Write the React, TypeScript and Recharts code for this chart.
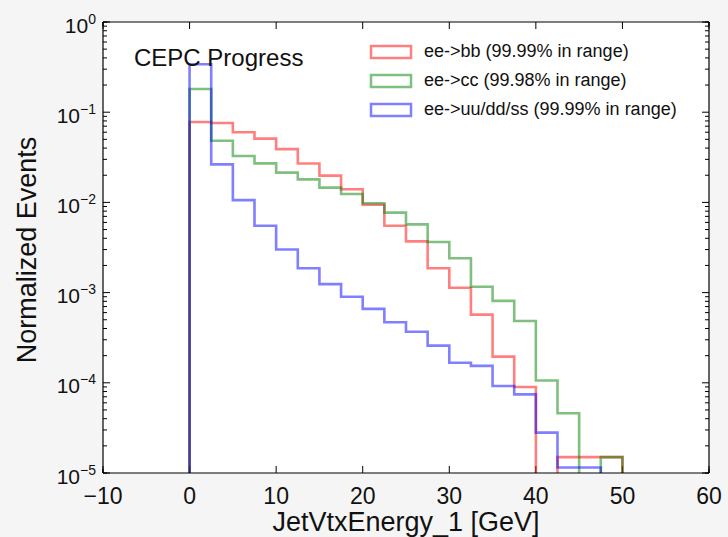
import { LineChart, Line, XAxis, YAxis, Legend, Label, CartesianGrid } from "recharts";

const FONT = '"Liberation Sans", Arial, Helvetica, sans-serif';

// bin edges of the histogram [GeV]
const BIN_EDGES = [
  0, 2.5, 5, 7.5, 10, 12.5, 15, 17.5, 20, 22.5, 25, 27.5, 30, 32.5, 35, 37.5,
  40, 42.5, 45, 47.5, 50,
];

// normalized bin contents
const BB = [
  0.078, 0.076, 0.06, 0.051, 0.039, 0.027, 0.0198, 0.014, 0.0094, 0.0055,
  0.0037, 0.00186, 0.00113, 0.00057, 0.000195, 0.00009, 0, 0.000015, 0.000015,
  0.000015,
];
const CC = [
  0.181, 0.0483, 0.0327, 0.0271, 0.0214, 0.018, 0.0146, 0.0124, 0.0098, 0.0077,
  0.0057, 0.00364, 0.0024, 0.00116, 0.00081, 0.000484, 0.000106, 0.0000459, 0,
  0.000015,
];
const QQ = [
  0.34, 0.0264, 0.0106, 0.0055, 0.003, 0.00186, 0.00124, 0.0009, 0.00066,
  0.00047, 0.000368, 0.000258, 0.000167, 0.000154, 0.0000922, 0.0000745,
  0.000028, 0.0000115, 0.0000115, 0,
];

const SERIES_NAMES = [
  "ee->bb (99.99% in range)",
  "ee->cc (99.98% in range)",
  "ee->uu/dd/ss (99.99% in range)",
];
const COLORS = ["#ff0000", "#008000", "#0000ff"];

const X_TICKS = [-10, 0, 10, 20, 30, 40, 50, 60];
const Y_TICKS = [1e-5, 1e-4, 1e-3, 1e-2, 1e-1, 1];

// positions of the minor tick marks
const X_MINOR: number[] = [];
for (let v = -10; v <= 60; v += 2) X_MINOR.push(v);
const Y_MINOR: number[] = [];
for (let e = -5; e < 0; e++) for (let m = 2; m <= 9; m++) Y_MINOR.push(m * Math.pow(10, e));

// layout
const W = 728;
const H = 537;
const MARGIN = { top: 22, right: 19, left: 0, bottom: 0 };
const Y_AXIS_W = 103;
const X_AXIS_H = 64;
const PLOT_W = W - MARGIN.left - MARGIN.right - Y_AXIS_W;
const PLOT_H = H - MARGIN.top - MARGIN.bottom - X_AXIS_H;
const MAJOR_LEN = 7;
const MINOR_LEN = 4;

// grid lines dashed so that only a short inward mark shows at each end
const endDash = (len: number, span: number) => `${len} ${span - 2 * len} ${len}`;

// empty bins sit far below the log axis and get clipped
const FLOOR = 1e-8;

function stepData(values: number[]) {
  const n = values.length;
  const pts = [{ x: BIN_EDGES[0], y: FLOOR }];
  values.forEach((v, i) => pts.push({ x: BIN_EDGES[i], y: v > 0 ? v : FLOOR }));
  const last = values[n - 1] > 0 ? values[n - 1] : FLOOR;
  pts.push({ x: BIN_EDGES[n], y: last });
  pts.push({ x: BIN_EDGES[n], y: FLOOR });
  return pts;
}

const SERIES = [BB, CC, QQ].map(stepData);

const fmtX = (v: number) => (v < 0 ? `\u2212${Math.abs(v)}` : String(v));

function LogTick(props: any) {
  const { x, y, payload } = props;
  const exp = Math.round(Math.log10(payload.value));
  const sup = exp < 0 ? `\u2212${Math.abs(exp)}` : String(exp);
  return (
    <text x={x} y={y + 10.5} textAnchor="end" fill="#111" fontSize={21} fontFamily={FONT}>
      <tspan>10</tspan>
      <tspan dy={-9} fontSize={14}>
        {sup}
      </tspan>
    </text>
  );
}

function YTitle(props: any) {
  const { viewBox } = props;
  const cx = 36;
  const cy = viewBox.y + viewBox.height / 2 + 2.5;
  return (
    <text
      x={cx}
      y={cy}
      transform={`rotate(-90, ${cx}, ${cy})`}
      textAnchor="middle"
      fill="#111"
      fontSize={27}
      fontFamily={FONT}
    >
      Normalized Events
    </text>
  );
}

function LegendBox(props: any) {
  const { payload } = props;
  return (
    <div style={{ fontFamily: FONT }}>
      {(payload || []).map((entry: any) => (
        <div
          key={entry.value}
          style={{ display: "flex", alignItems: "center", height: 29 }}
        >
          <svg width={44} height={16} style={{ display: "block" }}>
            <rect
              x={2}
              y={2}
              width={40}
              height={12}
              fill="none"
              stroke={entry.color}
              strokeOpacity={0.5}
              strokeWidth={2.5}
            />
          </svg>
          <span style={{ marginLeft: 11, fontSize: 18, color: "#111", whiteSpace: "nowrap" }}>
            {entry.value}
          </span>
        </div>
      ))}
    </div>
  );
}

const frame = { stroke: "#000", strokeWidth: 1.2 };

export default function App() {
  return (
    <div
      style={{
        position: "absolute",
        left: 0,
        top: 0,
        width: W,
        height: H,
        background: "#f5f5f5",
      }}
    >
      {/* white plot area behind the svg */}
      <div
        style={{
          position: "absolute",
          left: MARGIN.left + Y_AXIS_W,
          top: MARGIN.top,
          width: PLOT_W,
          height: PLOT_H,
          background: "#fff",
        }}
      />
      <LineChart width={W} height={H} margin={MARGIN}>
        {/* tick marks on all four sides, drawn as end-dashed grid lines */}
        <CartesianGrid horizontal={false} stroke="#000" strokeOpacity={1} strokeDasharray={endDash(MAJOR_LEN, PLOT_H)} />
        <CartesianGrid vertical={false} stroke="#000" strokeOpacity={1} strokeDasharray={endDash(MAJOR_LEN, PLOT_W)} />
        <CartesianGrid xAxisId="minor" yAxisId="minor" horizontal={false} stroke="#000" strokeOpacity={1} strokeDasharray={endDash(MINOR_LEN, PLOT_H)} />
        <CartesianGrid xAxisId="minor" yAxisId="minor" vertical={false} stroke="#000" strokeOpacity={1} strokeDasharray={endDash(MINOR_LEN, PLOT_W)} />

        <XAxis
          dataKey="x"
          type="number"
          domain={[-10, 60]}
          ticks={X_TICKS}
          interval={0}
          allowDataOverflow
          height={X_AXIS_H}
          axisLine={frame}
          tickLine={false}
          tickSize={0}
          tickMargin={15}
          tickFormatter={fmtX}
          tick={{ fill: "#111", fontSize: 23, fontFamily: FONT }}
        >
          <Label
            value="JetVtxEnergy_1 [GeV]"
            position="insideBottom"
            offset={6}
            style={{ fill: "#111", fontSize: 27, fontFamily: FONT }}
          />
        </XAxis>
        <XAxis xAxisId="minor" type="number" domain={[-10, 60]} ticks={X_MINOR} interval={0} allowDataOverflow hide />
        {/* top frame */}
        <XAxis xAxisId="top" orientation="top" type="number" domain={[-10, 60]} allowDataOverflow mirror axisLine={frame} tickLine={false} tick={false} />

        <YAxis
          type="number"
          scale="log"
          domain={[1e-5, 1]}
          ticks={Y_TICKS}
          interval={0}
          allowDataOverflow
          width={Y_AXIS_W}
          axisLine={frame}
          tickLine={false}
          tickSize={0}
          tickMargin={7}
          tick={<LogTick />}
        >
          <Label content={<YTitle />} />
        </YAxis>
        <YAxis yAxisId="minor" type="number" scale="log" domain={[1e-5, 1]} ticks={Y_MINOR} interval={0} allowDataOverflow hide />
        {/* right frame */}
        <YAxis yAxisId="right" orientation="right" type="number" scale="log" domain={[1e-5, 1]} allowDataOverflow mirror axisLine={frame} tickLine={false} tick={false} />

        {SERIES.map((data, i) => (
          <Line
            key={SERIES_NAMES[i]}
            data={data}
            dataKey="y"
            name={SERIES_NAMES[i]}
            type="stepAfter"
            stroke={COLORS[i]}
            strokeOpacity={0.5}
            strokeWidth={2.6}
            dot={false}
            activeDot={false}
            isAnimationActive={false}
          />
        ))}

        <Legend
          layout="vertical"
          align="center"
          verticalAlign="middle"
          content={<LegendBox />}
          wrapperStyle={{ top: 37, left: 369, width: "auto" }}
        />
      </LineChart>
      <div
        style={{
          position: "absolute",
          left: 134,
          top: 45.5,
          fontFamily: FONT,
          fontSize: 24,
          lineHeight: 1,
          color: "#111",
          whiteSpace: "nowrap",
        }}
      >
        CEPC Progress
      </div>
    </div>
  );
}
